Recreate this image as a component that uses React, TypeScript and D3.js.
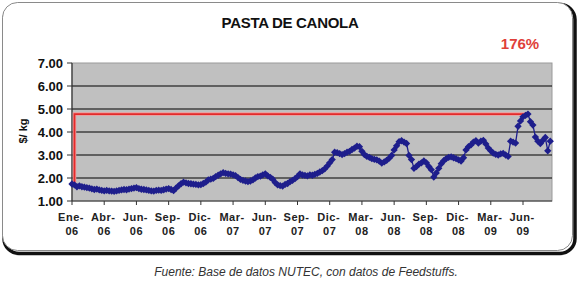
import React from "react";
import * as d3 from "d3";

const tickLabels = ["Ene-06","Abr-06","Jun-06","Sep-06","Dic-06","Mar-07","Jun-07","Sep-07","Dic-07","Mar-08","Jun-08","Sep-08","Dic-08","Mar-09","Jun-09"];
const labelEvery = 13;
const yTicks = [1, 2, 3, 4, 5, 6, 7];

const prices = [
  1.74,1.70,1.62,1.66,1.62,1.60,1.58,1.56,1.53,1.50,
  1.52,1.48,1.46,1.44,1.46,1.44,1.43,1.42,1.44,1.46,
  1.48,1.50,1.49,1.52,1.54,1.56,1.58,1.54,1.51,1.50,
  1.48,1.46,1.44,1.43,1.46,1.47,1.46,1.49,1.52,1.54,
  1.50,1.45,1.56,1.66,1.75,1.82,1.79,1.76,1.75,1.73,
  1.72,1.70,1.71,1.76,1.82,1.92,1.95,1.98,2.06,2.12,
  2.18,2.23,2.20,2.18,2.17,2.14,2.10,2.02,1.94,1.90,
  1.87,1.84,1.87,1.92,2.00,2.06,2.08,2.14,2.18,2.09,
  2.03,1.95,1.80,1.70,1.67,1.65,1.72,1.76,1.84,1.90,
  1.97,2.06,2.18,2.13,2.11,2.09,2.14,2.12,2.16,2.20,
  2.26,2.32,2.40,2.52,2.66,2.80,3.12,3.10,3.06,3.02,
  3.06,3.12,3.16,3.24,3.30,3.38,3.36,3.16,3.02,2.94,
  2.90,2.84,2.81,2.79,2.73,2.65,2.70,2.77,2.86,2.98,
  3.22,3.40,3.58,3.62,3.56,3.50,2.98,2.80,2.42,2.50,
  2.60,2.66,2.74,2.66,2.50,2.36,2.04,2.22,2.42,2.62,
  2.75,2.84,2.90,2.92,2.88,2.84,2.79,2.74,2.88,3.22,
  3.36,3.44,3.56,3.62,3.52,3.60,3.64,3.48,3.30,3.18,
  3.08,3.03,3.00,3.05,3.07,3.00,2.94,3.60,3.56,3.52,
  4.25,4.48,4.66,4.72,4.78,4.45,4.30,3.78,3.60,3.50,
  3.64,3.76,3.18,3.60
];

const title = "PASTA DE CANOLA";
const increaseLabel = "176%";
const yTitle = "$/ kg";
const source = "Fuente: Base de datos NUTEC, con datos de Feedstuffs.";

export default function App() {
  const W = 580, H = 281;
  const left = 72, right = 552, top = 63, bottom = 201;
  const step = (523 - 72) / ((tickLabels.length - 1) * labelEvery);
  const x = d3.scaleLinear().domain([0, 1]).range([left, left + step]);
  const y = d3.scaleLinear().domain([1, 7]).range([bottom, top]);
  const line = d3.line<number>().x((_, i) => x(i)).y(d => y(d));
  const marker = d3.symbol().type(d3.symbolDiamond2).size(34)();

  const maxV = d3.max(prices) as number;
  const maxI = prices.indexOf(maxV);
  const redPath = `M${x(1)},${y(prices[1])} L${x(1)},${y(maxV)} L${x(maxI)},${y(maxV)}`;

  const font = "'Liberation Sans', Arial, sans-serif";
  const blue = "#1e1e8c";

  return (
    <svg width={W} height={H} style={{ position: "absolute", left: 0, top: 0, background: "#fff" }} fontFamily={font}>
      <rect x={4} y={4.5} width={571} height={249} rx={15} fill="none" stroke="#111" strokeWidth={3.5} />
      <rect x={2.5} y={2.5} width={570} height={248} rx={15} fill="#fff" stroke="#8a8a8a" strokeWidth={1} />

      <text x={290} y={28} textAnchor="middle" fontSize={15} fontWeight="bold" fill="#111" letterSpacing={-0.3}>{title}</text>
      <text x={520} y={49} textAnchor="middle" fontSize={15} fontWeight="bold" fill="#e0403a">{increaseLabel}</text>

      <rect x={left} y={top} width={right - left} height={bottom - top} fill="#c0c0c0" stroke="#9a9a9a" strokeWidth={1} />
      {yTicks.filter(t => t > 1 && t < 7).map(t => (
        <line key={t} x1={left} x2={right} y1={y(t)} y2={y(t)} stroke="#000" strokeWidth={1} />
      ))}
      <line x1={left} x2={left} y1={top} y2={bottom} stroke="#333" strokeWidth={1.2} />
      <line x1={left} x2={right} y1={bottom} y2={bottom} stroke="#333" strokeWidth={1.2} />
      {yTicks.map(t => (
        <g key={t}>
          <line x1={left - 5} x2={left} y1={y(t)} y2={y(t)} stroke="#333" />
          <text x={63} y={y(t) + 4.5} textAnchor="end" fontSize={13} fontWeight="bold" fill="#111">{t.toFixed(2)}</text>
        </g>
      ))}
      {tickLabels.map((lab, k) => {
        const xi = x(k * labelEvery);
        const [m, yr] = lab.split("-");
        return (
          <g key={lab}>
            <line x1={xi} x2={xi} y1={bottom} y2={bottom + 4} stroke="#333" />
            <text x={xi - 1} y={221} textAnchor="middle" fontSize={11} fontWeight="bold" fill="#222" letterSpacing={0.5}>{m + "-"}</text>
            <text x={xi} y={235} textAnchor="middle" fontSize={11} fontWeight="bold" fill="#222" letterSpacing={0.5}>{yr}</text>
          </g>
        );
      })}
      <text transform="translate(27,131) rotate(-90)" textAnchor="middle" fontSize={11} fontWeight="bold" fill="#111">{yTitle}</text>

      <path d={redPath} fill="none" stroke="#f29a9a" strokeWidth={3.5} />
      <path d={redPath} fill="none" stroke="#e32b2b" strokeWidth={1.8} />

      <path d={line(prices) || ""} fill="none" stroke={blue} strokeWidth={1.3} />
      {prices.map((v, i) => (
        <path key={i} d={marker || ""} transform={`translate(${x(i)},${y(v)})`} fill={blue} />
      ))}

      <text x={306} y={276} textAnchor="middle" fontSize={12} fontStyle="italic" fill="#333">{source}</text>
    </svg>
  );
}
